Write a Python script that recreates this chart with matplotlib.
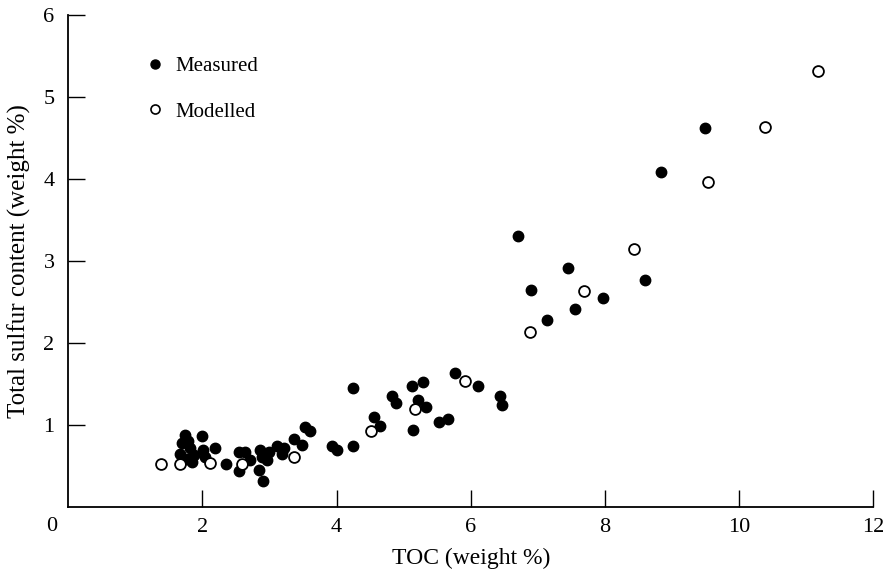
import matplotlib
matplotlib.use("Agg")
import matplotlib.pyplot as plt
from matplotlib.lines import Line2D

# Measured (filled circles)
measured_toc = [1.74, 1.99, 1.69, 1.79, 1.82, 1.67, 1.87, 1.77, 1.84, 2.01, 2.04, 2.19, 2.35,
                2.54, 2.63, 2.54, 2.71, 2.86, 2.89, 2.84, 2.96, 2.90, 2.99, 3.11, 3.21, 3.18,
                3.36, 3.48, 3.53, 3.61, 3.93, 4.00, 4.25, 4.25, 4.55, 4.65, 4.83, 4.88, 5.12,
                5.29, 5.22, 5.33, 5.14, 5.52, 5.66, 5.77, 6.10, 6.44, 6.46, 6.71, 6.89, 7.14,
                7.45, 7.55, 7.97, 8.60, 8.84, 9.49]
measured_s = [0.88, 0.86, 0.78, 0.80, 0.72, 0.65, 0.63, 0.59, 0.55, 0.70, 0.61, 0.72, 0.53,
              0.67, 0.67, 0.44, 0.57, 0.70, 0.61, 0.45, 0.57, 0.32, 0.67, 0.74, 0.72, 0.65,
              0.83, 0.76, 0.98, 0.93, 0.74, 0.70, 0.74, 1.45, 1.10, 0.99, 1.35, 1.27, 1.48,
              1.53, 1.30, 1.22, 0.94, 1.04, 1.07, 1.64, 1.48, 1.35, 1.24, 3.30, 2.65, 2.28,
              2.92, 2.41, 2.55, 2.77, 4.09, 4.62]

# Modelled (open circles)
modelled_toc = [1.38, 1.67, 2.11, 2.59, 3.36, 4.51, 5.17, 5.91, 6.88, 7.69, 8.43, 9.53, 10.38, 11.18]
modelled_s = [0.53, 0.53, 0.54, 0.53, 0.61, 0.93, 1.20, 1.54, 2.13, 2.64, 3.15, 3.96, 4.63, 5.32]

x_ticks = [2, 4, 6, 8, 10, 12]
y_ticks = [1, 2, 3, 4, 5, 6]

plt.rcParams['font.family'] = ['Liberation Serif', 'DejaVu Serif']

fig = plt.figure(figsize=(8.84, 5.74), dpi=100)
ax = fig.add_axes([0.0773, 0.1167, 0.9106, 0.8572])

ax.plot(measured_toc, measured_s, linestyle='none', marker='o', markersize=7.5,
        markerfacecolor='black', markeredgecolor='black', label='Measured', zorder=3)
ax.plot(modelled_toc, modelled_s, linestyle='none', marker='o', markersize=7.8,
        markerfacecolor='white', markeredgecolor='black', markeredgewidth=1.3,
        label='Modelled', zorder=4)

ax.set_xlim(0, 12)
ax.set_ylim(0, 6)
ax.set_xticks(x_ticks)
ax.set_yticks(y_ticks)
ax.set_xticklabels([str(t) for t in x_ticks])
ax.set_yticklabels([str(t) for t in y_ticks])
ax.tick_params(direction='in', length=12, width=1.0, labelsize=16, colors='black')
ax.tick_params(axis='x', pad=8)
ax.tick_params(axis='y', pad=10)
for s in ['top', 'right']:
    ax.spines[s].set_visible(False)
for s in ['left', 'bottom']:
    ax.spines[s].set_linewidth(1.3)

ax.text(-0.021, -0.04, '0', transform=ax.transAxes, ha='center', va='center', fontsize=16)

ax.set_xlabel('TOC (weight %)', fontsize=17, labelpad=8)
ax.set_ylabel('Total sulfur content (weight %)', fontsize=18, labelpad=9)

handles = [Line2D([], [], linestyle='none', marker='o', markersize=6.5,
                  markerfacecolor='black', markeredgecolor='black'),
           Line2D([], [], linestyle='none', marker='o', markersize=6.5,
                  markerfacecolor='white', markeredgecolor='black', markeredgewidth=1.2)]
ax.legend(handles, ['Measured', 'Modelled'], loc='upper left',
          bbox_to_anchor=(0.071, 0.954), frameon=False, fontsize=15,
          handletextpad=0.5, labelspacing=1.25, handlelength=1.0)

fig.savefig('out.png', dpi=100)
